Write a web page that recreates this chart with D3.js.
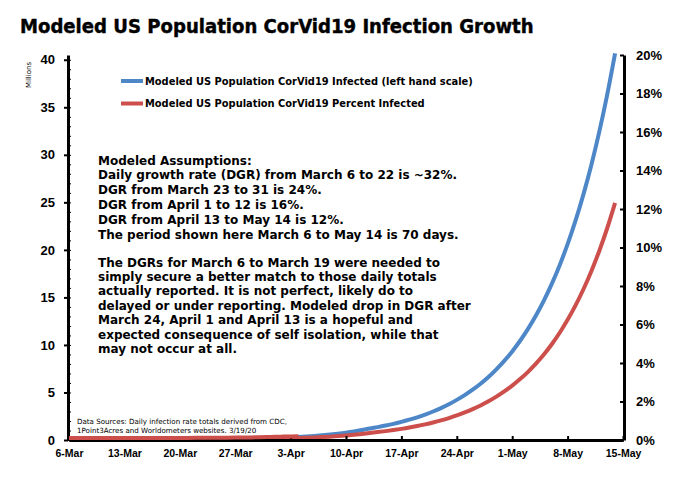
<!DOCTYPE html>
<html>
<head>
<meta charset="utf-8">
<script src="https://cdn.jsdelivr.net/npm/d3@7"></script>
<style>
  body { margin: 0; background: #fff; }
  svg { font-family: "DejaVu Sans", Verdana, sans-serif; }
  .axis path, .axis line { stroke: #000; }
  .axis text { fill: #000; font-weight: bold; }
</style>
</head>
<body>
<svg></svg>
<script>
const dayLabels = ["6-Mar", "13-Mar", "20-Mar", "27-Mar", "3-Apr", "10-Apr", "17-Apr", "24-Apr", "1-May", "8-May", "15-May"]

// modeled infected, millions, one value per day from 6-Mar to 14-May
const infectedMillions = [
  0.0003, 0.0003, 0.0005, 0.0006, 0.0008, 0.001, 0.0014, 0.0018, 0.0024, 0.0032,
  0.0042, 0.0056, 0.0073, 0.0097, 0.0128, 0.0169, 0.0223, 0.0294, 0.0365, 0.0452,
  0.0561, 0.0696, 0.0863, 0.107, 0.133, 0.165, 0.204, 0.237, 0.275, 0.319,
  0.370, 0.429, 0.498, 0.577, 0.670, 0.777, 0.901, 1.045, 1.21, 1.357,
  1.52, 1.70, 1.91, 2.14, 2.39, 2.68, 3.00, 3.36, 3.76, 4.22,
  4.72, 5.29, 5.92, 6.63, 7.43, 8.32, 9.32, 10.44, 11.69, 13.09,
  14.66, 16.42, 18.39, 20.60, 23.07, 25.84, 28.94, 32.41, 36.30, 40.66
]

// modeled percent of US population infected, same days
const percentInfected = [
  0.0001, 0.0001, 0.0001, 0.0002, 0.0002, 0.0003, 0.0004, 0.0006, 0.0007, 0.001,
  0.0013, 0.0017, 0.0022, 0.0029, 0.0039, 0.0051, 0.0068, 0.0089, 0.0111, 0.0137,
  0.017, 0.0211, 0.0262, 0.0324, 0.0403, 0.05, 0.062, 0.072, 0.083, 0.097,
  0.112, 0.13, 0.151, 0.175, 0.203, 0.235, 0.273, 0.317, 0.367, 0.411,
  0.461, 0.516, 0.578, 0.647, 0.725, 0.812, 0.909, 1.018, 1.141, 1.278,
  1.431, 1.603, 1.795, 2.01, 2.252, 2.522, 2.825, 3.164, 3.542, 3.967,
  4.442, 4.976, 5.573, 6.242, 6.991, 7.83, 8.77, 9.821, 11.0, 12.32
]

const leftTicks = [0, 5, 10, 15, 20, 25, 30, 35, 40]
const rightTicks = [0, 2, 4, 6, 8, 10, 12, 14, 16, 18, 20]

const seriesNames = [
  "Modeled US Population CorVid19 Infected (left hand scale)",
  "Modeled US Population CorVid19 Percent Infected"
]

const noteLines1 = [
  "Modeled Assumptions:",
  "Daily growth rate (DGR) from March 6 to 22 is ~32%.",
  "DGR from March 23 to 31 is 24%.",
  "DGR from April 1 to 12 is 16%.",
  "DGR from April 13 to May 14 is 12%.",
  "The period shown here March 6 to May 14 is 70 days."
]
const noteLines2 = [
  "The DGRs for March 6 to March 19 were needed to",
  "simply secure a better match to those daily totals",
  "actually reported. It is not perfect, likely do to",
  "delayed or under reporting. Modeled drop in DGR after",
  "March 24, April 1 and April 13 is a hopeful and",
  "expected consequence of self isolation, while that",
  "may not occur at all."
]
const sourceLines = [
  "Data Sources: Daily infection rate totals derived from CDC,",
  "1Point3Acres and Worldometers websites. 3/19/20"
]

const blue = "#4d87c7"
const red = "#cc4f4c"

const svg = d3.select("svg")
  .attr("width", 690)
  .attr("height", 487)

// shrink or grow a text so its width matches the picture
function fit(sel, width) {
  const w = sel.node().getComputedTextLength()
  const fs = parseFloat(sel.attr("font-size"))
  sel.attr("font-size", fs * width / w)
  return fs * width / w
}

const x = d3.scaleLinear()
  .domain([0, 70])
  .range([69, 623])

const yLeft = d3.scaleLinear()
  .domain([0, 40.5])
  .range([440, 55])

const yRight = d3.scaleLinear()
  .domain([0, 20])
  .range([440, 55])

// title
const title = svg.append("text")
  .attr("x", 20)
  .attr("y", 33)
  .attr("font-size", 18)
  .attr("font-weight", "bold")
  .attr("stroke", "#000")
  .attr("stroke-width", 0.4)
  .style("font-family", "'DejaVu Sans Condensed', 'DejaVu Sans', sans-serif")
  .text("Modeled US Population CorVid19 Infection Growth")
fit(title, 514)

// lines
const line = (scale) => d3.line()
  .x((d, i) => x(i))
  .y((d) => scale(d))
  .curve(d3.curveMonotoneX)

svg.append("path")
  .datum(infectedMillions)
  .attr("d", line(yLeft))
  .attr("fill", "none")
  .attr("stroke", blue)
  .attr("stroke-width", 4)

svg.append("path")
  .datum(percentInfected)
  .attr("d", line(yRight))
  .attr("fill", "none")
  .attr("stroke", red)
  .attr("stroke-width", 4)

// left axis, minor ticks inside
svg.append("g")
  .attr("class", "axis")
  .attr("transform", "translate(68,0)")
  .call(d3.axisLeft(yLeft).tickValues(d3.range(0, 40.5, 1)).tickSize(-3).tickSizeOuter(0).tickFormat(""))
  .call(g => g.select(".domain").remove())

svg.append("g")
  .attr("class", "axis")
  .attr("transform", "translate(68,0)")
  .call(d3.axisLeft(yLeft).tickValues(leftTicks).tickSize(4).tickSizeOuter(0).tickPadding(9))
  .call(g => g.select(".domain").attr("stroke-width", 3))
  .call(g => g.selectAll(".tick line").attr("stroke-width", 2))
  .call(g => g.selectAll("text").attr("font-size", 13))

// right axis
svg.append("g")
  .attr("class", "axis")
  .attr("transform", "translate(624,0)")
  .call(d3.axisRight(yRight).tickValues(rightTicks).tickSize(-4).tickSizeOuter(0).tickPadding(12).tickFormat(d => d + "%"))
  .call(g => g.select(".domain").attr("stroke-width", 3))
  .call(g => g.selectAll(".tick line").attr("stroke-width", 2))
  .call(g => g.selectAll("text").attr("font-size", 13))

// bottom axis
svg.append("g")
  .attr("class", "axis")
  .attr("transform", "translate(0,440)")
  .call(d3.axisBottom(x).tickValues(d3.range(0, 71, 7)).tickSize(-4).tickSizeOuter(0).tickPadding(10).tickFormat((d, i) => dayLabels[i]))
  .call(g => g.select(".domain").attr("stroke-width", 3))
  .call(g => g.selectAll(".tick line").attr("stroke-width", 2))
  .call(g => g.selectAll("text").attr("font-size", 10.5))

// red sits on top of the axis near zero, as in the reference
svg.append("path")
  .datum(percentInfected.slice(0, 30))
  .attr("d", line(yRight))
  .attr("transform", "translate(0,-2)")
  .attr("fill", "none")
  .attr("stroke", red)
  .attr("stroke-width", 4)

svg.append("text")
  .attr("transform", "translate(31,75) rotate(-90)")
  .attr("text-anchor", "middle")
  .attr("font-size", 7)
  .text("Millions")

// legend
const legend = svg.selectAll("g.legend")
  .data(seriesNames)
  .enter()
  .append("g")
  .attr("class", "legend")
  .attr("transform", (d, i) => `translate(121, ${81 + i * 22.5})`)

legend.append("line")
  .attr("x1", 0)
  .attr("x2", 22)
  .attr("stroke", (d, i) => [blue, red][i])
  .attr("stroke-width", 4)

const legendText = legend.append("text")
  .attr("x", 24)
  .attr("y", 3.5)
  .attr("font-size", 10)
  .attr("font-weight", "bold")
  .text(d => d)
const lfs = fit(d3.select(legendText.nodes()[1]), 280)
legendText.attr("font-size", lfs)

// notes
const notes = svg.append("g")
  .attr("font-weight", "bold")
  .attr("font-size", 12)

const n1 = notes.selectAll("text.n1")
  .data(noteLines1)
  .enter()
  .append("text")
  .attr("class", "n1")
  .attr("x", 98)
  .attr("y", (d, i) => 164.5 + i * 14.9)
  .text(d => d)
const nfs = fit(d3.select(n1.nodes()[0]), 152)
n1.attr("font-size", nfs)

notes.selectAll("text.n2")
  .data(noteLines2)
  .enter()
  .append("text")
  .attr("class", "n2")
  .attr("x", 98)
  .attr("y", (d, i) => 266.5 + i * 14.4)
  .attr("font-size", nfs)
  .text(d => d)

// data source note
const src = svg.selectAll("text.src")
  .data(sourceLines)
  .enter()
  .append("text")
  .attr("class", "src")
  .attr("x", 77)
  .attr("y", (d, i) => 424 + i * 9)
  .attr("font-size", 7)
  .text(d => d)
const sfs = fit(d3.select(src.nodes()[0]), 210)
src.attr("font-size", sfs)
</script>
</body>
</html>
